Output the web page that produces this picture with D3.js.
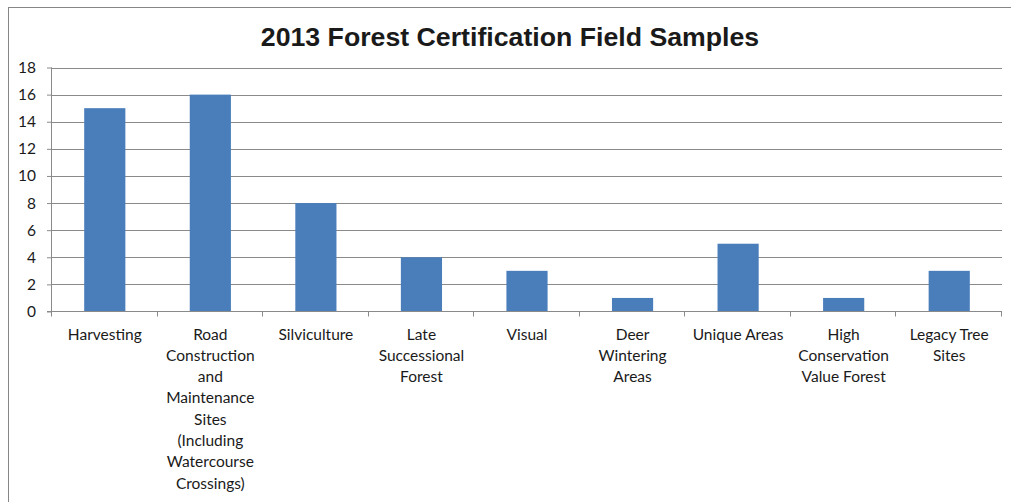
<!DOCTYPE html>
<html><head><meta charset="utf-8">
<script src="https://cdn.jsdelivr.net/npm/d3@7"></script>
<style>body{margin:0;background:#fff;} svg{display:block;}</style>
</head><body>
<svg id="c" width="1011" height="502"></svg>
<script>
const title = "2013 Forest Certification Field Samples";
const categories = [
  "Harvesting",
  "Road|Construction|and|Maintenance|Sites|(Including|Watercourse|Crossings)",
  "Silviculture",
  "Late|Successional|Forest",
  "Visual",
  "Deer|Wintering|Areas",
  "Unique Areas",
  "High|Conservation|Value Forest",
  "Legacy Tree|Sites"
];
const values = [15, 16, 8, 4, 3, 1, 5, 1, 3];
const yTicks = [0, 2, 4, 6, 8, 10, 12, 14, 16, 18];

(function () {
const svg = d3.select("#c");
const pL = 52, pR = 1002, pT = 67.5, pB = 311.5;
const labelFont = "Lato, 'Open Sans', sans-serif";

svg.append("rect").attr("x", 8.5).attr("y", 7.5).attr("width", 1030).attr("height", 520)
  .attr("fill", "#fff").attr("stroke", "#868686").attr("stroke-width", 1);

svg.append("text").attr("x", 510).attr("y", 46).attr("text-anchor", "middle")
  .attr("font-family", "Arial, 'Liberation Sans', sans-serif").attr("font-weight", "bold")
  .attr("font-size", 26.7).attr("fill", "#1a1a1a").text(title);

const x = d3.scaleBand().domain(d3.range(categories.length)).range([pL, pR]).paddingInner(0.61).paddingOuter(0.305);
const xb = d3.scaleBand().domain(d3.range(categories.length)).range([pL, pR]);
const y = d3.scaleLinear().domain([0, 18]).range([pB, pT]);

svg.append("g").selectAll("line").data(yTicks.filter(d => d > 0)).join("line")
  .attr("x1", pL).attr("x2", pR).attr("y1", d => Math.round(y(d)) + 0.5).attr("y2", d => Math.round(y(d)) + 0.5)
  .attr("stroke", "#8a8a8a").attr("stroke-width", 1);

svg.append("g").selectAll("rect").data(values).join("rect")
  .attr("x", (d, i) => x(i)).attr("width", x.bandwidth())
  .attr("y", d => y(d)).attr("height", d => y(0) - y(d))
  .attr("fill", "#4a7ebb");

const yAxis = svg.append("g").attr("transform", `translate(${pL},0)`)
  .call(d3.axisLeft(y).tickValues(yTicks).tickSize(5).tickPadding(11));
yAxis.select(".domain").attr("stroke", "#8a8a8a").attr("d", `M-0.5,${pT}V${pB}`);
yAxis.selectAll(".tick line").attr("stroke", "#8a8a8a");
yAxis.selectAll("text").attr("font-family", labelFont).attr("font-size", 15.5).attr("fill", "#1a1a1a");

const xAxis = svg.append("g").attr("transform", `translate(0,${pB})`);
xAxis.append("line").attr("x1", pL - 5).attr("x2", pR).attr("y1", 0).attr("y2", 0).attr("stroke", "#8a8a8a");
const bounds = d3.range(categories.length + 1).map(i => i < categories.length ? xb(i) : pR);
xAxis.selectAll("line.tk").data(bounds).join("line").attr("class", "tk")
  .attr("x1", d => Math.round(d) - 0.5).attr("x2", d => Math.round(d) - 0.5).attr("y1", 0).attr("y2", 5).attr("stroke", "#8a8a8a");

const lbl = svg.append("g");
categories.forEach((c, i) => {
  const t = lbl.append("text").attr("text-anchor", "middle")
    .attr("font-family", labelFont).attr("font-size", 15.5).attr("fill", "#1a1a1a");
  c.split("|").forEach((ln, j) => {
    t.append("tspan").attr("x", xb(i) + xb.bandwidth() / 2).attr("y", 339.5 + j * 21.3).text(ln);
  });
});
})();
</script>
</body></html>
